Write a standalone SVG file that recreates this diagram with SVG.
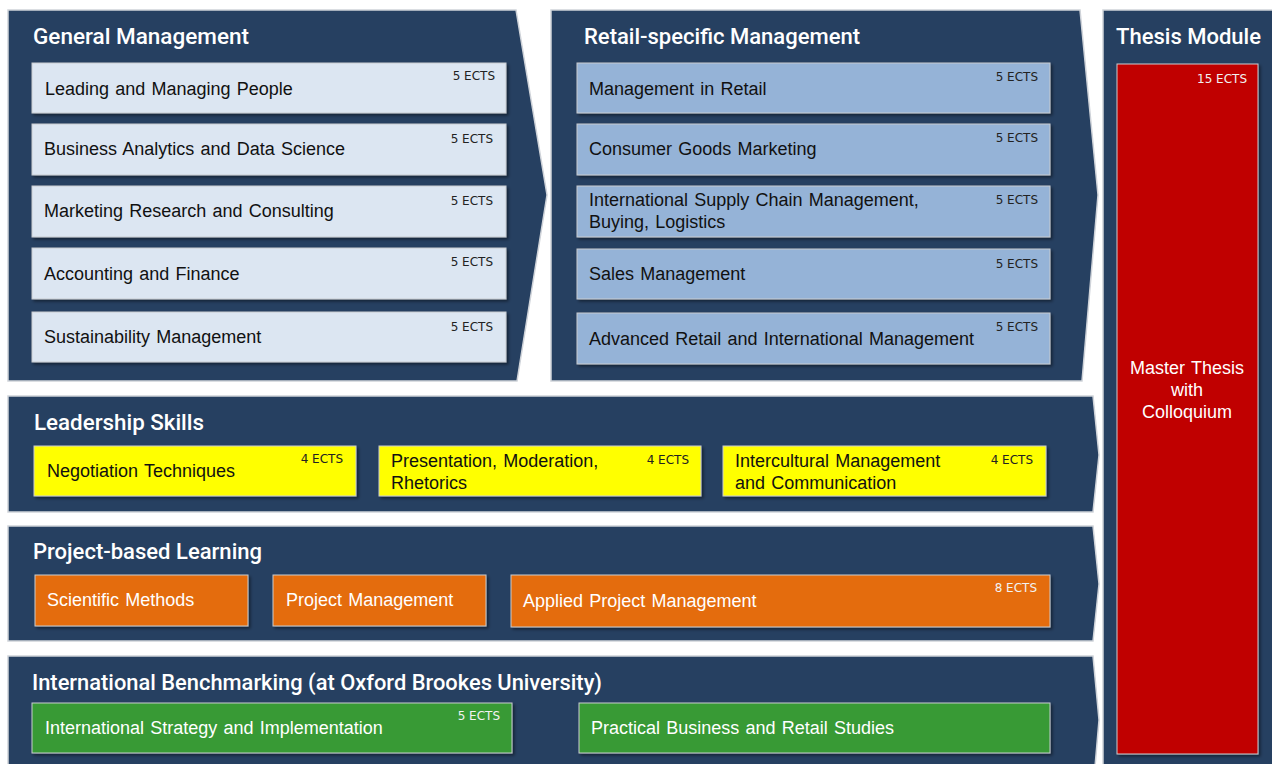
<svg xmlns="http://www.w3.org/2000/svg" width="1272" height="764" viewBox="0 0 1272 764">
<defs>
<filter id="sh" x="-5%" y="-20%" width="110%" height="150%">
<feDropShadow dx="2" dy="2" stdDeviation="1.5" flood-color="#000" flood-opacity="0.45"/>
</filter>
<style>
.panel{fill:#264061;stroke:#cfd3d9;stroke-width:1.5}
.title{font-family:Roboto,"Liberation Sans",Arial,sans-serif;font-size:22px;font-weight:500;fill:#ffffff}
.box{stroke:#c9ccd0;stroke-width:1;filter:url(#sh)}
.gm{fill:#dce6f2}
.rt{fill:#95b3d7}
.ye{fill:#ffff00}
.or{fill:#e46c0a}
.gr{fill:#379a35}
.rd{fill:#c00000}
.t{font-family:"Liberation Sans",Arial,sans-serif;font-size:18px;fill:#111111;word-spacing:1.2px}
.tw{font-family:"Liberation Sans",Arial,sans-serif;font-size:18px;fill:#ffffff;word-spacing:1.2px}
.e{font-family:"DejaVu Sans","Liberation Sans",sans-serif;font-size:12px;fill:#222222;text-anchor:end}
.ew{font-family:"DejaVu Sans","Liberation Sans",sans-serif;font-size:12px;fill:#f2f2f2;text-anchor:end}
</style>
</defs>
<rect width="1272" height="764" fill="#ffffff"/>

<g id="general-management">
<polygon class="panel" points="8,10 516,10 547,195 517,381 8,381"/>
<text class="title" x="33" y="44" textLength="216" lengthAdjust="spacingAndGlyphs">General Management</text>
<rect class="box gm" x="32" y="63" width="474" height="50"/>
<text class="t" x="45" y="95">Leading and Managing People</text>
<text class="e" x="495" y="80">5 ECTS</text>
<rect class="box gm" x="32" y="124" width="474" height="51"/>
<text class="t" x="44" y="155">Business Analytics and Data Science</text>
<text class="e" x="493" y="143">5 ECTS</text>
<rect class="box gm" x="32" y="186" width="474" height="51"/>
<text class="t" x="44" y="217">Marketing Research and Consulting</text>
<text class="e" x="493" y="205">5 ECTS</text>
<rect class="box gm" x="32" y="248" width="474" height="51"/>
<text class="t" x="44" y="280">Accounting and Finance</text>
<text class="e" x="493" y="266">5 ECTS</text>
<rect class="box gm" x="32" y="312" width="474" height="50"/>
<text class="t" x="44" y="343">Sustainability Management</text>
<text class="e" x="493" y="331">5 ECTS</text>
</g>

<g id="retail-management">
<polygon class="panel" points="551,10 1080,10 1098,195 1082,381 551,381"/>
<text class="title" x="584" y="44" textLength="276" lengthAdjust="spacingAndGlyphs">Retail-specific Management</text>
<rect class="box rt" x="577" y="63" width="473" height="50"/>
<text class="t" x="589" y="95">Management in Retail</text>
<text class="e" x="1038" y="81">5 ECTS</text>
<rect class="box rt" x="577" y="124" width="473" height="51"/>
<text class="t" x="589" y="155">Consumer Goods Marketing</text>
<text class="e" x="1038" y="142">5 ECTS</text>
<rect class="box rt" x="577" y="186" width="473" height="51"/>
<text class="t" x="589" y="206">International Supply Chain Management,</text>
<text class="t" x="589" y="228">Buying, Logistics</text>
<text class="e" x="1038" y="204">5 ECTS</text>
<rect class="box rt" x="577" y="249" width="473" height="50"/>
<text class="t" x="589" y="280">Sales Management</text>
<text class="e" x="1038" y="268">5 ECTS</text>
<rect class="box rt" x="577" y="313" width="473" height="51"/>
<text class="t" x="589" y="345">Advanced Retail and International Management</text>
<text class="e" x="1038" y="331">5 ECTS</text>
</g>

<g id="thesis-module">
<rect class="panel" x="1103" y="10" width="176" height="770"/>
<text class="title" x="1116" y="44" textLength="145" lengthAdjust="spacingAndGlyphs">Thesis Module</text>
<rect class="box rd" x="1117" y="64" width="141" height="690"/>
<text class="ew" x="1247" y="83">15 ECTS</text>
<text class="tw" x="1187" y="374" text-anchor="middle">Master Thesis</text>
<text class="tw" x="1187" y="396" text-anchor="middle">with</text>
<text class="tw" x="1187" y="418" text-anchor="middle">Colloquium</text>
</g>

<g id="leadership-skills">
<polygon class="panel" points="8,396 1093,396 1099,455 1093,512 8,512"/>
<text class="title" x="34" y="430" textLength="170" lengthAdjust="spacingAndGlyphs">Leadership Skills</text>
<rect class="box ye" x="34" y="446" width="322" height="50"/>
<text class="t" x="47" y="477">Negotiation Techniques</text>
<text class="e" x="343" y="463">4 ECTS</text>
<rect class="box ye" x="379" y="446" width="322" height="50"/>
<text class="t" x="391" y="467">Presentation, Moderation,</text>
<text class="t" x="391" y="489">Rhetorics</text>
<text class="e" x="689" y="464">4 ECTS</text>
<rect class="box ye" x="723" y="446" width="323" height="50"/>
<text class="t" x="735" y="467">Intercultural Management</text>
<text class="t" x="735" y="489">and Communication</text>
<text class="e" x="1033" y="464">4 ECTS</text>
</g>

<g id="project-based-learning">
<polygon class="panel" points="8,526 1093,526 1099,584 1093,641 8,641"/>
<text class="title" x="33" y="559" textLength="229" lengthAdjust="spacingAndGlyphs">Project-based Learning</text>
<rect class="box or" x="35" y="575" width="213" height="51"/>
<text class="tw" x="47" y="606">Scientific Methods</text>
<rect class="box or" x="273" y="575" width="213" height="51"/>
<text class="tw" x="286" y="606">Project Management</text>
<rect class="box or" x="511" y="575" width="539" height="52"/>
<text class="tw" x="523" y="607">Applied Project Management</text>
<text class="ew" x="1037" y="592">8 ECTS</text>
</g>

<g id="international-benchmarking">
<polygon class="panel" points="8,656 1093,656 1099,720 1093,790 8,790"/>
<text class="title" x="32" y="690" textLength="570" lengthAdjust="spacingAndGlyphs">International Benchmarking (at Oxford Brookes University)</text>
<rect class="box gr" x="32" y="703" width="480" height="50"/>
<text class="tw" x="45" y="734">International Strategy and Implementation</text>
<text class="ew" x="500" y="720">5 ECTS</text>
<rect class="box gr" x="579" y="703" width="471" height="50"/>
<text class="tw" x="591" y="734">Practical Business and Retail Studies</text>
</g>

<g id="connectors"></g>
</svg>
